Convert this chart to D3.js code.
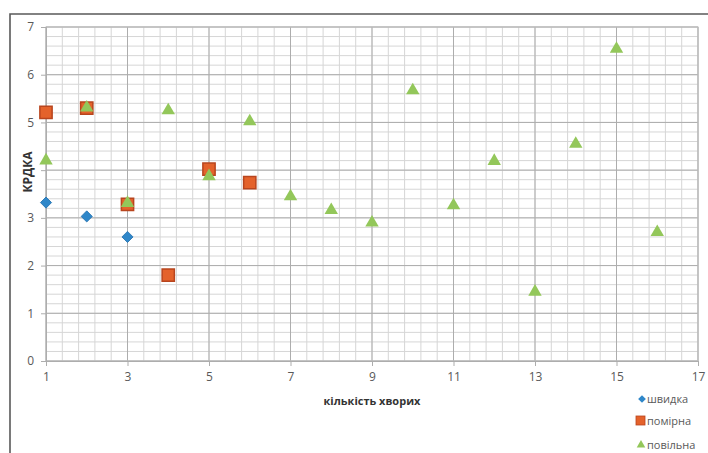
<!DOCTYPE html>
<html><head><meta charset="utf-8">
<script src="https://cdn.jsdelivr.net/npm/d3@7/dist/d3.min.js"></script>
<style>
html,body{margin:0;padding:0;background:#fff;}
svg{display:block;}
text{font-family:"Open Sans","Noto Sans",sans-serif;}
</style></head>
<body>
<svg id="chart" width="708" height="453"></svg>
<script>
// ---- data ----
const xTicks = [1, 3, 5, 7, 9, 11, 13, 15, 17];
const yTicks = [0, 1, 2, 3, 4, 5, 6, 7];
const fastX = [1, 2, 3];
const fastY = [3.32, 3.03, 2.6];
const modX = [1, 2, 3, 4, 5, 6];
const modY = [5.21, 5.3, 3.28, 1.8, 4.02, 3.74];
const slowX = [1, 2, 3, 4, 5, 6, 7, 8, 9, 10, 11, 12, 13, 14, 15, 16];
const slowY = [4.2, 5.31, 3.31, 5.25, 3.87, 5.02, 3.45, 3.16, 2.9, 5.67, 3.26, 4.19, 1.45, 4.55, 6.54, 2.7];
const seriesNames = ["швидка", "помірна", "повільна"];
const xTitle = "кількість хворих";
const yTitle = "КРДКА";

const svg = d3.select("#chart");
const W = 708, H = 453;
const x = d3.scaleLinear().domain([1, 17]).range([46, 698]);
const y = d3.scaleLinear().domain([0, 7]).range([361, 27]);

// outer frame (top and left)
svg.append("path").attr("d", `M10,${H} L10,14 L${W},14`).attr("fill", "none")
  .attr("stroke", "#595959").attr("stroke-width", 1.6);

// minor grid
const minorX = d3.range(0, 41).map(i => 1 + i * 0.4);
const minorY = d3.range(0, 36).map(i => i * 0.2);
const g = svg.append("g");
g.selectAll(".mx").data(minorX).enter().append("line")
  .attr("x1", d => x(d)).attr("x2", d => x(d)).attr("y1", y(7)).attr("y2", y(0))
  .attr("stroke", "#d6d6d6").attr("stroke-width", 1);
g.selectAll(".my").data(minorY).enter().append("line")
  .attr("y1", d => y(d)).attr("y2", d => y(d)).attr("x1", x(1)).attr("x2", x(17))
  .attr("stroke", "#d6d6d6").attr("stroke-width", 1);
// major grid
g.selectAll(".Mx").data(xTicks).enter().append("line")
  .attr("x1", d => x(d)).attr("x2", d => x(d)).attr("y1", y(7)).attr("y2", y(0))
  .attr("stroke", "#adadad").attr("stroke-width", 1);
g.selectAll(".My").data(yTicks).enter().append("line")
  .attr("y1", d => y(d)).attr("y2", d => y(d)).attr("x1", x(1)).attr("x2", x(17))
  .attr("stroke", "#adadad").attr("stroke-width", 1);
// plot area border
svg.append("rect").attr("x", x(1)).attr("y", y(7)).attr("width", x(17) - x(1)).attr("height", y(0) - y(7))
  .attr("fill", "none").attr("stroke", "#bdbdbd").attr("stroke-width", 1);

// axes
const xAxis = svg.append("g").attr("transform", `translate(0,${y(0)})`)
  .call(d3.axisBottom(x).tickValues(xTicks).tickSize(5).tickPadding(6).tickFormat(d3.format("d")));
const yAxis = svg.append("g").attr("transform", `translate(${x(1)},0)`)
  .call(d3.axisLeft(y).tickValues(yTicks).tickSize(5).tickPadding(7).tickFormat(d3.format("d")));
[xAxis, yAxis].forEach(a => {
  a.select(".domain").attr("stroke", "#adadad");
  a.selectAll(".tick line").attr("stroke", "#adadad");
  a.selectAll(".tick text").attr("fill", "#595959").style("font-size", "12px")
    .style("font-family", "'Open Sans','Noto Sans',sans-serif");
});

// axis titles
svg.append("text").attr("x", 372).attr("y", 405).attr("text-anchor", "middle")
  .style("font-size", "11px").style("font-weight", "bold").attr("fill", "#333").text(xTitle);
// y title with opaque background (covers the "4" label as in the original)
svg.append("rect").attr("x", 19).attr("y", 148).attr("width", 16).attr("height", 46).attr("fill", "#fff");
svg.append("text").attr("transform", "translate(32,172) rotate(-90)").attr("text-anchor", "middle")
  .style("font-size", "12px").style("font-weight", "bold").attr("fill", "#333").text(yTitle);

// markers
const fastData = fastX.map((v, i) => [v, fastY[i]]);
const modData = modX.map((v, i) => [v, modY[i]]);
const slowData = slowX.map((v, i) => [v, slowY[i]]);

svg.append("g").selectAll("path").data(fastData).enter().append("path")
  .attr("d", d3.symbol().type(d3.symbolSquare).size(62)())
  .attr("transform", d => `translate(${x(d[0])},${y(d[1])}) rotate(45)`)
  .attr("fill", "#2f87c9").attr("stroke", "#2673b0").attr("stroke-width", 0.8);
svg.append("g").selectAll("path").data(modData).enter().append("path")
  .attr("d", d3.symbol().type(d3.symbolSquare).size(150)())
  .attr("transform", d => `translate(${x(d[0])},${y(d[1])})`)
  .attr("fill", "#e4622b").attr("stroke", "#b8451e").attr("stroke-width", 1.5);
svg.append("g").selectAll("path").data(slowData).enter().append("path")
  .attr("d", d3.symbol().type(d3.symbolTriangle).size(78)())
  .attr("transform", d => `translate(${x(d[0])},${y(d[1])})`)
  .attr("fill", "#93c75a").attr("stroke", "none");

// legend
const legY = [403, 425, 449];
const leg = svg.append("g");
leg.append("path").attr("d", d3.symbol().type(d3.symbolSquare).size(30)())
  .attr("transform", `translate(642,${legY[0] - 4}) rotate(45)`).attr("fill", "#2f87c9");
leg.append("rect").attr("x", 636).attr("y", legY[1] - 9).attr("width", 9).attr("height", 9)
  .attr("fill", "#e4622b").attr("stroke", "#b8451e").attr("stroke-width", 0.8);
leg.append("path").attr("d", d3.symbol().type(d3.symbolTriangle).size(32)())
  .attr("transform", `translate(641,${legY[2] - 4})`).attr("fill", "#93c75a");
leg.selectAll("text").data(seriesNames).enter().append("text")
  .attr("x", 647).attr("y", (d, i) => legY[i]).attr("fill", "#595959")
  .style("font-size", "11px").text(d => d);
</script>
</body></html>
